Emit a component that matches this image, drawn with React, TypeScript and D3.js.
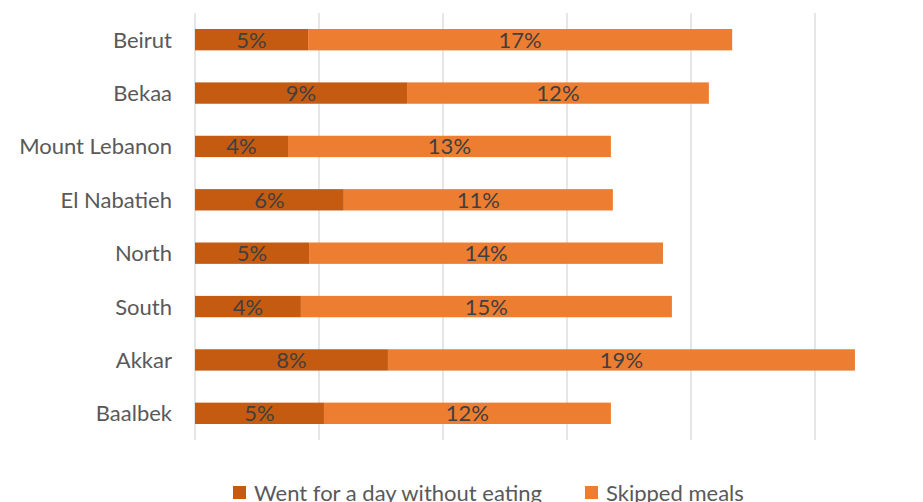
import * as d3 from "d3";
import React from "react";

const regions = [
  "Beirut",
  "Bekaa",
  "Mount Lebanon",
  "El Nabatieh",
  "North",
  "South",
  "Akkar",
  "Baalbek",
];
// share of households, in percent
const wentWithoutEating = [4.56, 8.55, 3.75, 6.0, 4.6, 4.27, 7.78, 5.2];
const skippedMeals = [17.1, 12.17, 13.02, 10.85, 14.27, 14.96, 18.83, 11.57];
const seriesNames = ["Went for a day without eating", "Skipped meals"];
const gridTicks = [0, 5, 10, 15, 20, 25];

const colors = ["#C55A11", "#ED7D31"];
const font = "Lato, 'Open Sans', sans-serif";

export default function App(): React.ReactElement {
  const width = 923;
  const height = 502;
  const plotTop = 13;
  const plotBottom = 440;

  const x = d3.scaleLinear().domain([0, 30]).range([195, 939]);
  const y = d3
    .scaleBand<string>()
    .domain(regions)
    .range([plotTop, plotBottom])
    .paddingInner(0.6)
    .paddingOuter(0.3);

  const stacked = regions.map((r, i) => {
    const a = wentWithoutEating[i];
    const b = skippedMeals[i];
    return [
      { key: seriesNames[0], x0: 0, x1: a, v: a },
      { key: seriesNames[1], x0: a, x1: a + b, v: b },
    ];
  });

  return (
    <svg
      height={height}
      width={width}
      style={{ position: "absolute", left: 0, top: 0, background: "#fff" }}
      fontFamily={font}
    >
      {/* gridlines */}
      {gridTicks.map((t) => (
        <line
          key={`g-${t}`}
          stroke="#D9D9D9"
          strokeWidth={1.3}
          x1={x(t)}
          x2={x(t)}
          y1={plotTop}
          y2={plotBottom}
        />
      ))}

      {/* bars */}
      {regions.map((r, i) => (
        <g key={r}>
          {stacked[i].map((s, j) => (
            <rect
              key={s.key}
              fill={colors[j]}
              height={y.bandwidth()}
              width={x(s.x1) - x(s.x0)}
              x={x(s.x0)}
              y={y(r)}
            />
          ))}
          {stacked[i].map((s) => (
            <text
              key={`l-${s.key}`}
              fill="#404040"
              fontSize={22}
              textAnchor="middle"
              x={(x(s.x0) + x(s.x1)) / 2}
              y={(y(r) ?? 0) + y.bandwidth() / 2 + 8}
            >
              {Math.round(s.v)}%
            </text>
          ))}
          <text
            fill="#595959"
            fontSize={22}
            textAnchor="end"
            x={172}
            y={(y(r) ?? 0) + y.bandwidth() / 2 + 8}
          >
            {r}
          </text>
        </g>
      ))}

      {/* legend */}
      {seriesNames.map((n, i) => (
        <g key={`leg-${n}`} transform={`translate(${i === 0 ? 233 : 585},486)`}>
          <rect fill={colors[i]} height={13} width={13} x={0} y={0} />
          <text fill="#595959" fontSize={22} x={21} y={15}>
            {n}
          </text>
        </g>
      ))}
    </svg>
  );
}
